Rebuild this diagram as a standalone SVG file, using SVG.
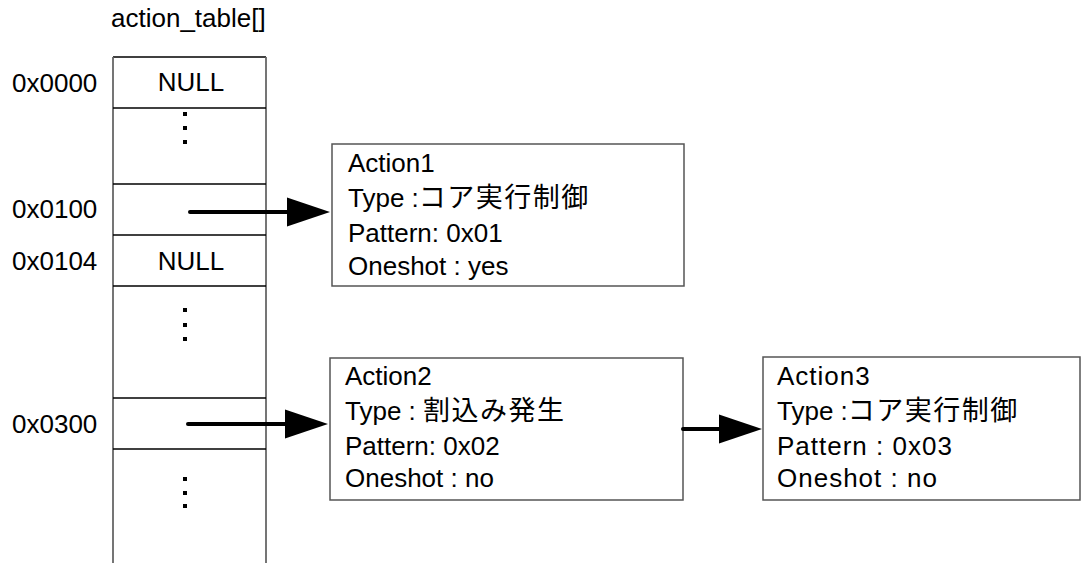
<svg xmlns="http://www.w3.org/2000/svg" width="1082" height="563" viewBox="0 0 1082 563">
  <style>
    text { font-family: "Liberation Sans", "Noto Sans CJK JP", sans-serif; font-size: 26px; fill: #000; }
    .jp { font-family: "Noto Sans CJK JP", sans-serif; font-size: 27px; letter-spacing: 1.5px; }
    .mid { text-anchor: middle; }
    .box { fill: #fff; stroke: #555; stroke-width: 1.5; }
    .row { stroke: #000; stroke-width: 1.5; }
    .side { stroke: #666; stroke-width: 1.8; }
    .dot { fill: #000; }
    .link { fill: none; stroke: #000; stroke-width: 4; stroke-linecap: round; marker-end: url(#head); }
  </style>
  <defs>
    <marker id="head" markerUnits="userSpaceOnUse" markerWidth="43" markerHeight="29" refX="23" refY="14.5" orient="auto" overflow="visible">
      <path d="M0,0 L43,14.5 L0,29 Z" fill="#000"/>
    </marker>
  </defs>
  <rect width="1082" height="563" fill="#fff"/>

  <!-- pointer table -->
  <g id="action_table">
    <text x="111" y="27">action_table[]</text>
    <line class="row" x1="113" y1="57" x2="266" y2="57"/>
    <line class="side" x1="113" y1="57" x2="113" y2="563"/>
    <line class="side" x1="266" y1="57" x2="266" y2="563"/>
    <line class="row" x1="113" y1="108" x2="266" y2="108"/>
    <line class="row" x1="113" y1="184" x2="266" y2="184"/>
    <line class="row" x1="113" y1="235" x2="266" y2="235"/>
    <line class="row" x1="113" y1="286" x2="266" y2="286"/>
    <line class="row" x1="113" y1="398" x2="266" y2="398"/>
    <line class="row" x1="113" y1="449" x2="266" y2="449"/>

    <text class="mid" x="191" y="91">NULL</text>
    <text class="mid" x="191" y="270">NULL</text>

    <!-- vertical ellipses -->
    <rect class="dot" x="183" y="112" width="4" height="4"/>
    <rect class="dot" x="183" y="126" width="4" height="4"/>
    <rect class="dot" x="183" y="140" width="4" height="4"/>
    <rect class="dot" x="183" y="308" width="4" height="4"/>
    <rect class="dot" x="183" y="323" width="4" height="4"/>
    <rect class="dot" x="183" y="337" width="4" height="4"/>
    <rect class="dot" x="183" y="477" width="4" height="4"/>
    <rect class="dot" x="183" y="491" width="4" height="4"/>
    <rect class="dot" x="183" y="504" width="4" height="4"/>
  </g>

  <!-- addresses -->
  <g id="addresses">
    <text x="12" y="92">0x0000</text>
    <text x="12" y="218">0x0100</text>
    <text x="12" y="270">0x0104</text>
    <text x="12" y="433">0x0300</text>
  </g>

  <g id="action1">
    <rect class="box" x="332" y="144" width="352" height="142"/>
    <text x="348" y="172">Action1</text>
    <text x="348" y="207">Type :<tspan class="jp">コア実行制御</tspan></text>
    <text x="348" y="242">Pattern: 0x01</text>
    <text x="348" y="275">Oneshot : yes</text>
  </g>

  <g id="action2">
    <rect class="box" x="330" y="358" width="353" height="142"/>
    <text x="345" y="385">Action2</text>
    <text x="345" y="420">Type : <tspan class="jp">割込み発生</tspan></text>
    <text x="345" y="455">Pattern: 0x02</text>
    <text x="345" y="487">Oneshot : no</text>
  </g>

  <g id="action3">
    <rect class="box" x="763" y="357" width="317" height="143"/>
    <text x="777" y="385" letter-spacing="1">Action3</text>
    <text x="777" y="420">Type :<tspan class="jp" letter-spacing="2.5">コア実行制御</tspan></text>
    <text x="777" y="455" letter-spacing="1">Pattern : 0x03</text>
    <text x="777" y="487" letter-spacing="1">Oneshot : no</text>
  </g>

  <!-- pointers -->
  <g id="connectors">
    <path class="link" d="M190,212 H310"/>
    <path class="link" d="M188,424 H308"/>
    <path class="link" d="M683,429 H742"/>
  </g>
</svg>
